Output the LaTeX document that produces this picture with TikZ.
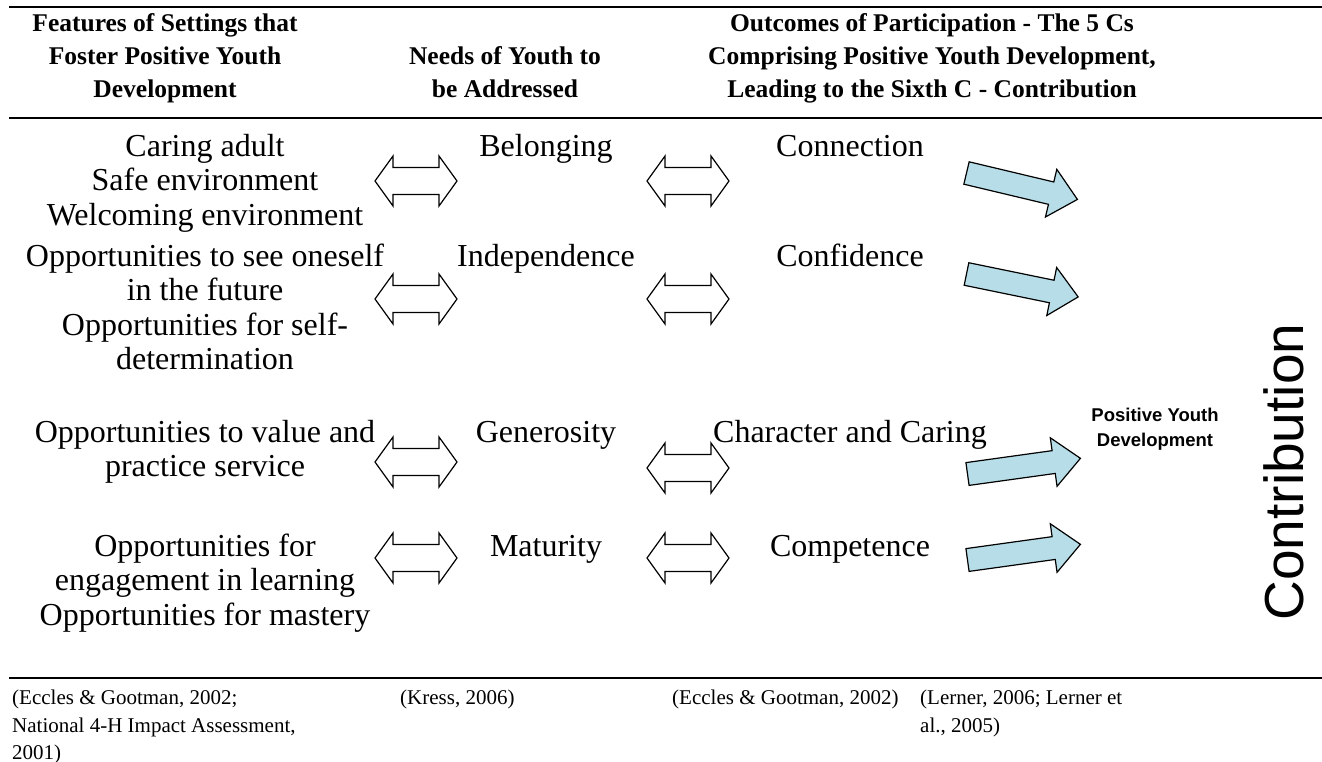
\documentclass[tikz,border=0pt]{standalone}
\usepackage{fontspec}
\setmainfont{Liberation Serif}
\newfontfamily\arialfont{Liberation Sans}
\definecolor{arrowblue}{HTML}{B7DEE8}
\begin{document}
\begin{tikzpicture}[x=1pt,y=-1pt,
  bodytext/.style={anchor=base,inner sep=0pt,font=\fontsize{32}{34.5}\selectfont},
  hdr/.style={anchor=base,inner sep=0pt,font=\fontsize{25.5}{33}\selectfont\bfseries},
  citetext/.style={anchor=base west,inner sep=0pt,font=\fontsize{21}{28}\selectfont},
  pydtext/.style={anchor=base,inner sep=0pt,font=\arialfont\bfseries\fontsize{18.5}{25}\selectfont},
  tablerule/.style={line width=2pt},
  dblarrow/.pic={
    \draw[line width=1.2pt,fill=white]
      (-41,0) -- (-23,-25) -- (-23,-13.5) -- (23,-13.5) -- (23,-25) -- (41,0)
      -- (23,25) -- (23,13.5) -- (-23,13.5) -- (-23,25) -- cycle;},
  pydarrow/.pic={
    \draw[line width=1.2pt,fill=arrowblue]
      (0,-11.5) -- (87,-11.5) -- (87,-24.5) -- (114,0) -- (87,24.5)
      -- (87,11.5) -- (0,11.5) -- cycle;}
]
\useasboundingbox (0,0) rectangle (1322,761);

% table rules
\draw[tablerule] (9,7) -- (1322,7);
\draw[tablerule] (9,118) -- (1322,118);
\draw[tablerule] (9,678) -- (1322,678);

% column headings
\node[hdr] (h1a) at (165,31) {Features of Settings that};
\node[hdr] (h1b) at (165,64) {Foster Positive Youth};
\node[hdr] (h1c) at (165,97) {Development};
\node[hdr] (h2a) at (505,64) {Needs of Youth to};
\node[hdr] (h2b) at (505,97) {be Addressed};
\node[hdr] (h3a) at (932,31) {Outcomes of Participation - The 5 Cs};
\node[hdr] (h3b) at (932,64) {Comprising Positive Youth Development,};
\node[hdr] (h3c) at (932,97) {Leading to the Sixth C - Contribution};

% features of settings
\node[bodytext] (f1)  at (205,156)   {Caring adult};
\node[bodytext] (f2)  at (205,190.5) {Safe environment};
\node[bodytext] (f3)  at (205,225)   {Welcoming environment};
\node[bodytext] (f4)  at (205,266)   {Opportunities to see oneself};
\node[bodytext] (f5)  at (205,300.5) {in the future};
\node[bodytext] (f6)  at (205,335)   {Opportunities for self-};
\node[bodytext] (f7)  at (205,369.5) {determination};
\node[bodytext] (f8)  at (205,442)   {Opportunities to value and};
\node[bodytext] (f9)  at (205,476.5) {practice service};
\node[bodytext] (f10) at (205,556)   {Opportunities for};
\node[bodytext] (f11) at (205,590.5) {engagement in learning};
\node[bodytext] (f12) at (205,625)   {Opportunities for mastery};

% needs of youth
\node[bodytext] (n1) at (546,156) {Belonging};
\node[bodytext] (n2) at (546,266) {Independence};
\node[bodytext] (n3) at (546,442) {Generosity};
\node[bodytext] (n4) at (546,556) {Maturity};

% the Cs
\node[bodytext] (c1) at (850,156) {Connection};
\node[bodytext] (c2) at (850,266) {Confidence};
\node[bodytext] (c3) at (850,442) {Character and Caring};
\node[bodytext] (c4) at (850,556) {Competence};

% two-way arrows between the columns
\pic (da1) at (416,181) {dblarrow};
\pic (db1) at (688,181) {dblarrow};
\pic (da2) at (416,299) {dblarrow};
\pic (db2) at (688,299) {dblarrow};
\pic (da3) at (416,462) {dblarrow};
\pic (db3) at (688,468) {dblarrow};
\pic (da4) at (416,558) {dblarrow};
\pic (db4) at (688,558) {dblarrow};

% arrows into positive youth development
\pic[rotate=-13.4] (pa1) at (966.5,173) {pydarrow};
\pic[rotate=-11.6] (pa2) at (966.5,274) {pydarrow};
\pic[rotate=7.9]   (pa3) at (967.5,474) {pydarrow};
\pic[rotate=7.9]   (pa4) at (967.5,560) {pydarrow};

\node[pydtext] (pyd1) at (1155,421) {Positive Youth};
\node[pydtext] (pyd2) at (1155,446) {Development};

\node[anchor=base,rotate=90,inner sep=0pt,font=\arialfont\fontsize{55}{60}\selectfont]
  (contrib) at (1303,472) {Contribution};

% sources
\node[citetext] (s1a) at (12,704) {(Eccles \& Gootman, 2002;};
\node[citetext] (s1b) at (12,732) {National 4-H Impact Assessment,};
\node[citetext] (s1c) at (12,759) {2001)};
\node[citetext] (s2)  at (400,704) {(Kress, 2006)};
\node[citetext] (s3)  at (672,704) {(Eccles \& Gootman, 2002)};
\node[citetext] (s4a) at (920,704) {(Lerner, 2006; Lerner et};
\node[citetext] (s4b) at (920,732) {al., 2005)};
\end{tikzpicture}
\end{document}
